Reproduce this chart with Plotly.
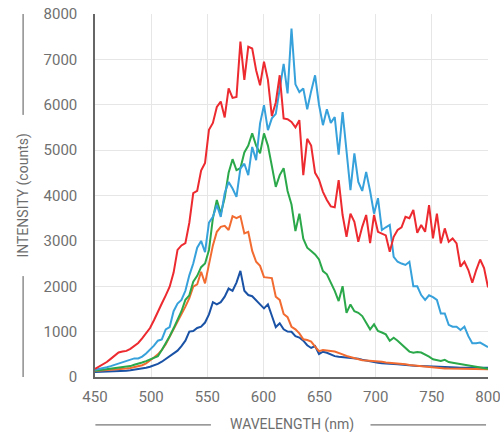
import plotly.graph_objects as go

wavelength = [450 + 3.5 * i for i in range(101)]

red = [180, 230, 280, 330, 400, 470, 540, 560, 575, 620, 680, 750, 850, 960, 1080, 1250, 1450, 1620, 1800, 1990,
       2300, 2800, 2900, 2950, 3400, 4050, 4100, 4550, 4720, 5450, 5600, 5950, 6070, 5720, 6360, 6150, 6170, 7390, 6550, 7280,
       7240, 6760, 6430, 6950, 6550, 5750, 6050, 6650, 5700, 5680, 5620, 5500, 5660, 4450, 5250, 5100, 4500, 4350, 4080, 3900,
       3760, 3740, 4340, 3570, 3090, 3600, 3420, 2980, 3310, 3570, 2950, 3570, 3200, 3165, 3120, 2760, 3090, 3240, 3300, 3530,
       3500, 3680, 3180, 3350, 3200, 3790, 3055, 3600, 2945, 3275, 2980, 3055, 2945, 2430, 2540, 2357, 2077, 2357, 2590, 2400,
       1975]

light_blue = [160, 175, 195, 215, 240, 270, 300, 330, 360, 390, 410, 410, 450, 520, 600, 690, 800, 830, 1050, 1100,
              1450, 1620, 1700, 1900, 2240, 2500, 2850, 3000, 2750, 3400, 3530, 3790, 3530, 4050, 4300, 4155, 3970, 4600, 4700, 4450,
              5070, 4780, 5590, 5990, 5440, 5700, 5800, 6400, 6900, 6250, 7680, 6450, 6280, 6360, 5900, 6300, 6650, 6000, 5550, 5900,
              5600, 5730, 4900, 5840, 4900, 4120, 4930, 4300, 4100, 4520, 4100, 3600, 3940, 3240, 3300, 3350, 2650, 2540, 2500, 2470,
              2540, 2000, 2000, 1806, 1700, 1800, 1760, 1700, 1400, 1400, 1150, 1108, 1108, 1035, 1108, 900, 742, 742, 760, 700,
              660]

green = [140, 150, 160, 170, 180, 195, 205, 215, 225, 240, 270, 290, 320, 350, 390, 430, 460, 595, 740, 900,
         1073, 1260, 1450, 1700, 1800, 2100, 2230, 2420, 2500, 2800, 3500, 3900, 3600, 3950, 4500, 4800, 4560, 4600, 4950, 5100,
         5370, 5100, 4930, 5370, 5100, 4650, 4190, 4450, 4600, 4100, 3800, 3215, 3600, 3050, 2850, 2775, 2700, 2590, 2335, 2262,
         2077, 1900, 1673, 2000, 1415, 1600, 1450, 1415, 1343, 1200, 1050, 1160, 1013, 980, 940, 800, 866, 800, 720, 650,
         560, 535, 550, 540, 500, 450, 390, 370, 352, 380, 330, 315, 300, 290, 280, 260, 242, 230, 215, 200,
         183]

orange = [130, 135, 140, 145, 150, 155, 165, 175, 185, 200, 215, 230, 260, 300, 360, 430, 500, 595, 720, 880,
          1050, 1220, 1380, 1550, 1740, 1990, 2040, 2320, 2064, 2450, 2900, 3200, 3310, 3330, 3240, 3545, 3500, 3545, 3165, 3200,
          2780, 2540, 2450, 2200, 2195, 2180, 1770, 1700, 1390, 1320, 1108, 1050, 962, 830, 815, 780, 667, 570, 595, 590,
          572, 560, 535, 500, 462, 440, 410, 390, 370, 365, 360, 352, 345, 335, 320, 315, 310, 305, 295, 280,
          265, 255, 245, 235, 225, 215, 205, 200, 195, 190, 185, 182, 180, 178, 176, 174, 172, 171, 170, 170,
          170]

dark_blue = [110, 112, 115, 118, 120, 125, 130, 135, 140, 150, 160, 175, 190, 205, 225, 255, 290, 337, 400, 460,
             520, 580, 680, 800, 1000, 1013, 1080, 1110, 1200, 1380, 1650, 1600, 1650, 1770, 1950, 1900, 2080, 2340, 1900, 1806,
             1780, 1680, 1600, 1513, 1600, 1350, 1100, 1183, 1050, 1000, 998, 900, 870, 800, 700, 640, 683, 507, 557, 535,
             500, 460, 447, 440, 435, 430, 420, 400, 380, 360, 340, 330, 315, 305, 295, 290, 285, 282, 278, 270,
             260, 250, 245, 240, 235, 230, 227, 222, 218, 215, 212, 210, 208, 206, 205, 205, 205, 205, 205, 205,
             205]

series = [
    ("dark blue", dark_blue, "#1A52A6"),
    ("orange", orange, "#F26B30"),
    ("green", green, "#2BA84A"),
    ("light blue", light_blue, "#36A1DB"),
    ("red", red, "#EC2A2F"),
]

x_ticks = [450, 500, 550, 600, 650, 700, 750, 800]
y_ticks = [0, 1000, 2000, 3000, 4000, 5000, 6000, 7000, 8000]

fig = go.Figure()
for name, vals, color in series:
    assert len(vals) == len(wavelength), name
    fig.add_trace(go.Scatter(x=wavelength, y=vals, mode="lines", name=name,
                             line=dict(color=color, width=2), hoverinfo="skip"))

tick_font = dict(family="Roboto, sans-serif", size=15, color="#707070")
title_font = dict(family="Roboto, sans-serif", size=14, color="#6e6e6e")

fig.update_layout(
    width=500, height=432,
    margin=dict(l=95, r=12, t=14, b=55, autoexpand=False),
    paper_bgcolor="white", plot_bgcolor="white",
    showlegend=False,
    xaxis=dict(range=[450, 800], tickvals=x_ticks, ticktext=[str(v) for v in x_ticks],
               showgrid=True, gridcolor="#e6e6e6", gridwidth=1, zeroline=False,
               showline=True, linecolor="#666666", linewidth=1.5,
               ticks="outside", ticklen=5, tickcolor="rgba(0,0,0,0)",
               ticklabeloverflow="allow", automargin=False,
               tickfont=tick_font, fixedrange=True),
    yaxis=dict(range=[0, 8000], tickvals=y_ticks, ticktext=[str(v) for v in y_ticks],
               showgrid=True, gridcolor="#e6e6e6", gridwidth=1, zeroline=False,
               showline=True, linecolor="#666666", linewidth=1.5,
               ticks="outside", ticklen=13, tickcolor="rgba(0,0,0,0)",
               ticklabeloverflow="allow", automargin=False,
               tickfont=tick_font, fixedrange=True),
    annotations=[
        dict(text="INTENSITY (counts)", xref="paper", yref="paper", x=-0.183, y=0.5,
             textangle=-90, showarrow=False, font=title_font, xanchor="center", yanchor="middle"),
        dict(text="WAVELENGTH (nm)", xref="paper", yref="paper", x=0.5, y=-0.132,
             showarrow=False, font=title_font, xanchor="center", yanchor="middle"),
    ],
    shapes=[
        dict(type="line", xref="paper", yref="paper", x0=-0.183, x1=-0.183, y0=1.0, y1=0.722,
             line=dict(color="#555555", width=1)),
        dict(type="line", xref="paper", yref="paper", x0=-0.183, x1=-0.183, y0=0.278, y1=0.0,
             line=dict(color="#555555", width=1)),
        dict(type="line", xref="paper", yref="paper", x0=0.001, x1=0.295, y0=-0.132, y1=-0.132,
             line=dict(color="#555555", width=1)),
        dict(type="line", xref="paper", yref="paper", x0=0.701, x1=0.995, y0=-0.132, y1=-0.132,
             line=dict(color="#555555", width=1)),
    ],
)

fig.write_html("out.html", config={"displayModeBar": False, "responsive": False},
               post_script="document.body.style.margin='0';document.body.style.padding='0';")
